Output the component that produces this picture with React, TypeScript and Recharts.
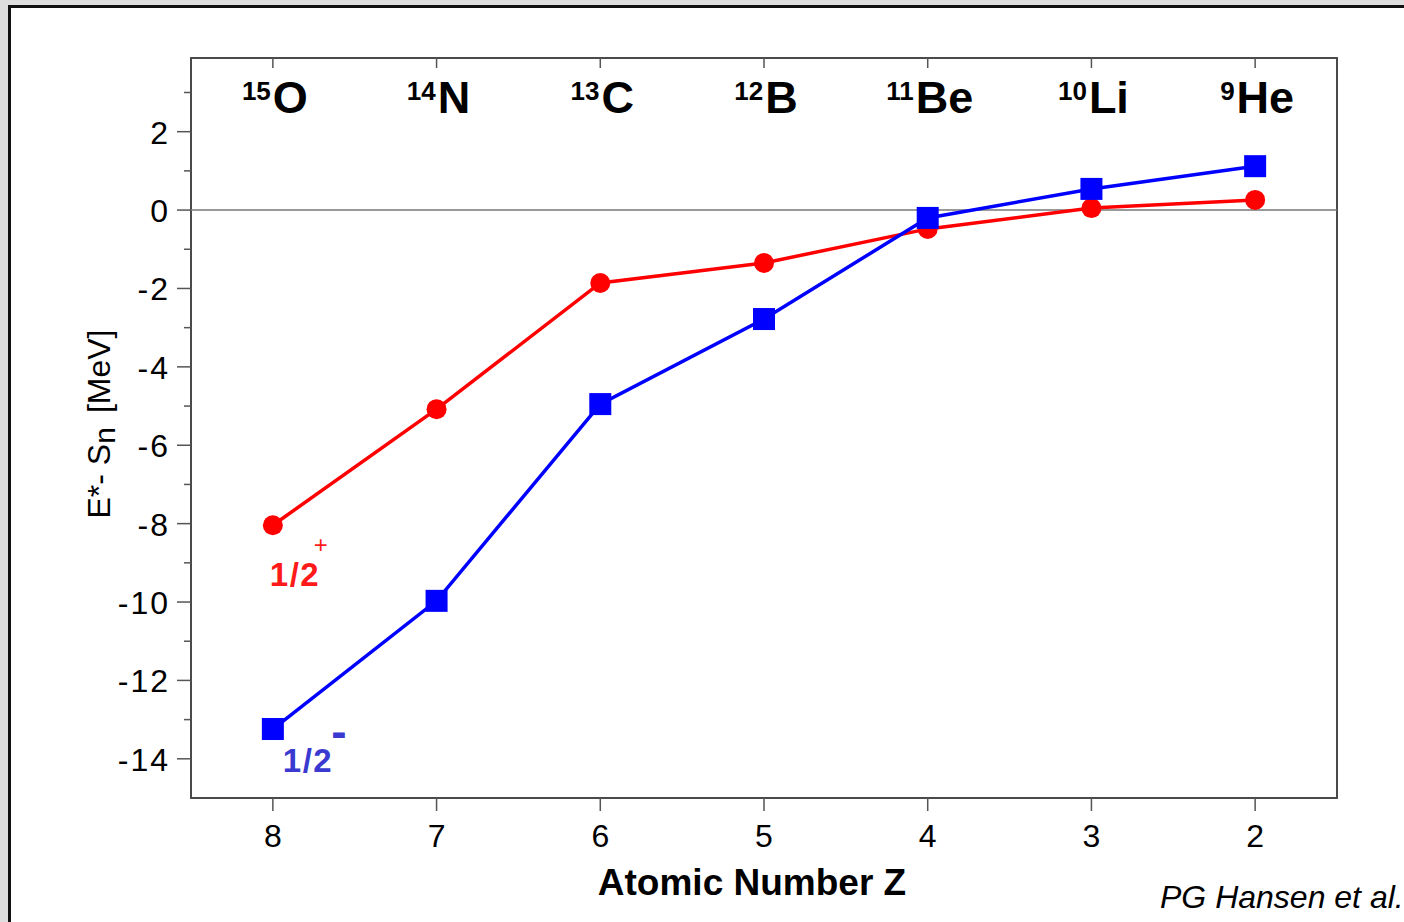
import React from "react";
import { LineChart, Line, XAxis, YAxis, ReferenceLine, ReferenceArea } from "recharts";

const zValues = [8, 7, 6, 5, 4, 3, 2];
const isotopeMass = ["15", "14", "13", "12", "11", "10", "9"];
const isotopeSymbol = ["O", "N", "C", "B", "Be", "Li", "He"];
const positiveParity = [-8.04, -5.08, -1.86, -1.35, -0.48, 0.05, 0.26];
const negativeParity = [-13.24, -9.97, -4.95, -2.78, -0.2, 0.54, 1.12];
const yMajorTicks = [-14, -12, -10, -8, -6, -4, -2, 0, 2];
const yMinorTicks = [-13, -11, -9, -7, -5, -3, -1, 1, 3];

const data = zValues.map((z, i) => ({ z, pos: positiveParity[i], neg: negativeParity[i] }));
const yTicks = [...yMajorTicks, ...yMinorTicks].sort((a, b) => a - b);

const FONT = "'Liberation Sans', Arial, Helvetica, sans-serif";
const X_DOMAIN: [number, number] = [1.5, 8.5];
const Y_DOMAIN: [number, number] = [-15, 3.88];

const YTick = (props: any) => {
  const { x, y, payload } = props;
  const v = payload.value;
  const major = yMajorTicks.includes(v);
  return (
    <g>
      <line x1={x - (major ? 14 : 7)} x2={x} y1={y} y2={y} stroke="#555" strokeWidth={1.5} />
      {major && (
        <text x={x - 21} y={y + 12} textAnchor="end" fontSize={32} letterSpacing={2} fontFamily={FONT} fill="#000">
          {String(v)}
        </text>
      )}
    </g>
  );
};

const XTick = (props: any) => {
  const { x, y, payload } = props;
  return (
    <text x={x} y={y + 36} textAnchor="middle" fontSize={32} fontFamily={FONT} fill="#000">
      {String(payload.value)}
    </text>
  );
};

const TopTick = (props: any) => {
  const { x, payload } = props;
  const i = zValues.indexOf(payload.value);
  if (i < 0) return <g />;
  return (
    <text x={x + 2} y={113} textAnchor="middle" fontFamily={FONT} fontWeight="bold" fill="#000">
      <tspan fontSize={26} dy={-13}>{isotopeMass[i]}</tspan>
      <tspan fontSize={45} dy={13} dx={2}>{isotopeSymbol[i]}</tspan>
    </text>
  );
};

const PosLabel = (p: any) => {
  if (p.index !== 0) return null;
  const { x, y } = p;
  return (
    <g>
      <text x={x - 3} y={y + 61} fontSize={33} letterSpacing={1.5} fontWeight="bold" fontFamily={FONT} fill="#ff1a1a">1/2</text>
      <text x={x + 48} y={y + 28} textAnchor="middle" fontSize={24} fontFamily={FONT} fill="#ff1a1a">+</text>
    </g>
  );
};

const NegLabel = (p: any) => {
  if (p.index !== 0) return null;
  const { x, y } = p;
  return (
    <g>
      <text x={x + 10} y={y + 43} fontSize={33} letterSpacing={1.5} fontWeight="bold" fontFamily={FONT} fill="#3a3ad0">1/2</text>
      <text x={x + 66} y={y + 18} textAnchor="middle" fontSize={46} fontWeight="bold" fontFamily={FONT} fill="#3a3ad0">-</text>
    </g>
  );
};

const SquareDot = (p: any) => {
  const { cx, cy, index } = p;
  if (cx == null || cy == null) return <g key={`sq-${index}`} />;
  return <rect key={`sq-${index}`} x={cx - 11} y={cy - 11} width={22} height={22} fill="#0000ff" />;
};

export default function App() {
  return (
    <div style={{ position: "absolute", left: 0, top: 0, width: 1404, height: 922, background: "#dedede", overflow: "hidden" }}>
      <div
        style={{
          position: "absolute",
          left: 8,
          top: 5,
          width: 1440,
          height: 960,
          background: "#ffffff",
          borderLeft: "3px solid #111",
          borderTop: "3px solid #111",
        }}
      />
      <div style={{ position: "absolute", left: 0, top: 0 }}>
        <LineChart width={1404} height={922} data={data} margin={{ top: 58, right: 67, bottom: 64, left: 111 }}>
          <XAxis
            dataKey="z"
            type="number"
            domain={X_DOMAIN}
            reversed
            ticks={zValues}
            allowDataOverflow
            height={60}
            axisLine={false}
            tickSize={13}
            tickMargin={0}
            tickLine={{ stroke: "#555", strokeWidth: 1.5 }}
            tick={<XTick />}
          />
          <XAxis
            xAxisId="top"
            dataKey="z"
            type="number"
            orientation="top"
            mirror
            domain={X_DOMAIN}
            reversed
            ticks={zValues}
            allowDataOverflow
            axisLine={false}
            tickSize={10}
            tickMargin={0}
            tickLine={{ stroke: "#555", strokeWidth: 1.5 }}
            tick={<TopTick />}
          />
          <YAxis
            type="number"
            domain={Y_DOMAIN}
            ticks={yTicks}
            allowDataOverflow
            width={80}
            axisLine={false}
            tickLine={false}
            tickSize={0}
            tickMargin={0}
            interval={0}
            tick={<YTick />}
          />
          <ReferenceArea x1={8.5} x2={1.5} y1={-15} y2={3.88} fill="none" stroke="#4a4a4a" strokeWidth={2} ifOverflow="extendDomain" />
          <ReferenceLine y={0} stroke="#777" strokeWidth={1.5} />
          <Line
            dataKey="pos"
            stroke="#ff0000"
            strokeWidth={3.5}
            dot={{ r: 10, fill: "#ff0000", stroke: "#ff0000", strokeWidth: 0 }}
            label={PosLabel}
            isAnimationActive={false}
          />
          <Line
            dataKey="neg"
            stroke="#0000ff"
            strokeWidth={3.5}
            dot={SquareDot}
            label={NegLabel}
            isAnimationActive={false}
          />
        </LineChart>
      </div>
      <svg width={1404} height={922} style={{ position: "absolute", left: 0, top: 0, pointerEvents: "none" }}>
        <text transform="translate(110,424) rotate(-90)" textAnchor="middle" fontSize={32} fontFamily={FONT} fill="#000">
          <tspan>E*- S</tspan>
          <tspan dy={5} fontSize={30}>n</tspan>
          <tspan dy={-5} dx={14}>[MeV]</tspan>
        </text>
        <text x={752} y={895} textAnchor="middle" fontSize={37} fontWeight="bold" fontFamily={FONT} fill="#000">
          Atomic Number Z
        </text>
        <text x={1160} y={908} fontSize={32} fontStyle="italic" fontFamily={FONT} fill="#000">
          PG Hansen et al.
        </text>
      </svg>
    </div>
  );
}
